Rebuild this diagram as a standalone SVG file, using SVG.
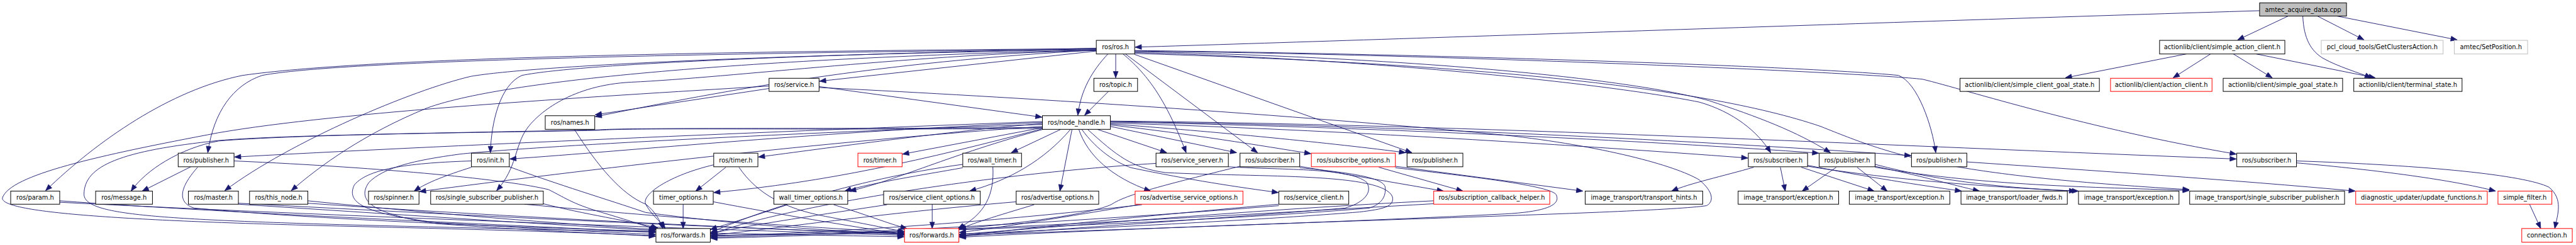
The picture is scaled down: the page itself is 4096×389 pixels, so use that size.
<svg xmlns="http://www.w3.org/2000/svg" width="4096" height="389" viewBox="0 0 4096 389">
<style>
.e{fill:none;stroke:#191970;stroke-width:1.2;marker-end:url(#a)}
.n rect{fill:#fff;stroke:#000;stroke-width:1.3}
.r rect{stroke:#ff0000}
.g rect{stroke:#bfbfbf}
.s rect{fill:#bfbfbf}
text{font-family:"DejaVu Sans","Liberation Sans",sans-serif;font-size:12.8px;text-anchor:middle;fill:#000}
</style>
<defs>
<marker id="a" markerWidth="14" markerHeight="11" refX="13" refY="5" orient="auto" markerUnits="userSpaceOnUse" overflow="visible"><path d="M0,0 L13,5 L0,10 z" fill="#191970" stroke="#191970" stroke-width="1"/></marker>
</defs>
<rect width="4096" height="389" fill="#fff"/>
<g transform="scale(0.772)">
<g id="edges">
<path class="e" d="M4654,22 C4000,42 2900,80 2338,97"/>
<path class="e" d="M4713,33 L4609,82"/>
<path class="e" d="M4773,33 L4869,82"/>
<path class="e" d="M4813,33 L5061,82"/>
<path class="e" d="M4743,33 C4745,80 4760,105 4785,120 C4815,137 4860,150 4884,160"/>
<path class="e" d="M4503,111 L4254,160"/>
<path class="e" d="M4553,111 L4476,160"/>
<path class="e" d="M4600,111 L4680,160"/>
<path class="e" d="M4647,111 L4892,160"/>
<path class="e" d="M2298,111 L2298,160"/>
<path class="e" d="M2282,111 C2250,145 2226,185 2220,237"/>
<path class="e" d="M2283,188 L2234,237"/>
<path class="e" d="M2258,105 L1688,167"/>
<path class="e" d="M2258,103 C1800,128 1500,185 1226,240"/>
<path class="e" d="M1584,182 L1226,236"/>
<path class="e" d="M1687,178 L2146,241"/>
<path class="e" d="M2258,99 C1700,112 1200,130 1075,155 C1030,175 1012,250 1010,314"/>
<path class="e" d="M2258,104 C1900,110 1500,160 1300,169 C1180,175 1110,230 1085,265 C1060,300 1065,345 1023,392"/>
<path class="e" d="M2258,100 C1400,106 750,120 500,155 C350,185 200,290 94,392"/>
<path class="e" d="M2258,101 C1400,110 700,125 540,155 C480,175 440,230 428,314"/>
<path class="e" d="M2258,102 C1600,112 1100,135 970,157 C850,185 600,290 463,392"/>
<path class="e" d="M2258,103 C1600,118 1050,160 880,222 C750,275 660,340 600,392"/>
<path class="e" d="M2313,111 C2360,150 2400,200 2443,314"/>
<path class="e" d="M2318,111 L2590,314"/>
<path class="e" d="M2337,112 L2908,314"/>
<path class="e" d="M2337,108 C2800,120 3300,170 3500,210 C3570,230 3620,270 3647,314"/>
<path class="e" d="M2337,106 C2900,118 3350,160 3520,207 C3620,240 3700,270 3770,314"/>
<path class="e" d="M2337,104 C2900,110 3700,135 3910,155 C3950,170 3980,260 3987,314"/>
<path class="e" d="M2337,105 C3000,112 3850,150 3960,163 C4050,185 4300,265 4606,317"/>
<path class="e" d="M2337,110 C3000,130 3500,175 3750,260 C3900,320 4000,360 4509,390"/>
<path class="e" d="M2147,250 C1600,270 900,300 483,323"/>
<path class="e" d="M2147,252 C1700,270 1300,310 1050,327"/>
<path class="e" d="M2147,254 C1950,270 1700,305 1562,323"/>
<path class="e" d="M2150,262 L1859,317"/>
<path class="e" d="M2185,266 L2083,314"/>
<path class="e" d="M2260,266 L2403,314"/>
<path class="e" d="M2287,260 L2547,314"/>
<path class="e" d="M2287,257 C2450,275 2600,300 2700,316"/>
<path class="e" d="M2287,255 C2500,270 2750,295 2895,314"/>
<path class="e" d="M2287,253 C2700,265 3200,295 3600,325"/>
<path class="e" d="M2287,251 C2800,260 3400,290 3746,315"/>
<path class="e" d="M2287,250 C2900,258 3500,290 3936,320"/>
<path class="e" d="M2287,249 C3000,255 3900,300 4606,327"/>
<path class="e" d="M2147,260 C1700,290 1200,350 864,394"/>
<path class="e" d="M971,344 C920,360 880,375 853,393"/>
<path class="e" d="M2147,262 C1700,266 1300,262 1233,267 C1000,272 600,277 450,290 C370,305 300,350 270,393"/>
<path class="e" d="M393,343 L293,393"/>
<path class="e" d="M2150,264 C1900,330 1700,375 1470,396"/>
<path class="e" d="M1495,344 L1433,393"/>
<path class="e" d="M2152,265 C1950,320 1850,370 1750,393"/>
<path class="e" d="M1983,345 C1900,360 1800,375 1740,393"/>
<path class="e" d="M2205,266 C2150,330 2080,370 1997,393"/>
<path class="e" d="M2208,266 L2183,393"/>
<path class="e" d="M2222,266 C2240,320 2290,365 2370,393"/>
<path class="e" d="M2228,266 C2260,310 2300,335 2330,345 C2450,370 2550,385 2633,396"/>
<path class="e" d="M2677,342 L2973,393"/>
<path class="e" d="M2840,344 L3013,393"/>
<path class="e" d="M2874,342 L3260,393"/>
<path class="e" d="M3612,344 C3550,362 3480,377 3443,393"/>
<path class="e" d="M3667,344 L3677,393"/>
<path class="e" d="M3782,344 L3712,393"/>
<path class="e" d="M3710,344 L3860,393"/>
<path class="e" d="M3825,344 L3887,393"/>
<path class="e" d="M3723,340 C3850,365 3950,380 4040,393"/>
<path class="e" d="M3862,342 C3950,360 4020,380 4077,393"/>
<path class="e" d="M3723,342 C3900,370 4100,385 4275,393"/>
<path class="e" d="M3862,338 C4000,375 4150,388 4281,393"/>
<path class="e" d="M3862,344 C4100,385 4350,385 4509,392"/>
<path class="e" d="M4051,333 C4300,350 4600,370 4851,393"/>
<path class="e" d="M4730,335 C4900,350 5050,370 5140,393"/>
<path class="e" d="M4730,331 C5000,340 5200,360 5250,385 C5280,410 5268,440 5262,470"/>
<path class="e" d="M5210,420 L5233,470"/>
<path class="e" d="M123,413 C500,440 1000,460 1350,478"/>
<path class="e" d="M123,416 C700,445 1400,470 1862,484"/>
<path class="e" d="M1584,177 C1200,200 700,230 450,273 C200,320 20,360 5,407 C0,440 300,455 700,465 C1000,472 1200,478 1350,485"/>
<path class="e" d="M2147,264 C1700,268 1300,262 1233,268 C1000,273 600,276 450,289 C250,310 173,340 173,400 C175,440 300,450 700,462 C1200,475 1600,482 1862,487"/>
<path class="e" d="M407,344 C375,380 360,415 400,428 C700,455 1100,468 1350,476"/>
<path class="e" d="M491,420 C800,440 1100,460 1350,474"/>
<path class="e" d="M491,418 C1000,445 1500,470 1862,480"/>
<path class="e" d="M634,413 C900,440 1150,460 1350,472"/>
<path class="e" d="M634,418 C1100,450 1600,472 1862,482"/>
<path class="e" d="M1119,419 C1200,440 1300,455 1355,469"/>
<path class="e" d="M1080,420 C1400,450 1700,470 1862,478"/>
<path class="e" d="M1049,343 C1150,380 1250,410 1330,437 C1500,460 1700,475 1862,481"/>
<path class="e" d="M1470,339 C1380,360 1320,400 1330,420 C1340,440 1360,455 1370,470"/>
<path class="e" d="M1407,420 L1407,470"/>
<path class="e" d="M1522,344 C1560,400 1620,430 1700,445 C1780,460 1830,470 1863,477"/>
<path class="e" d="M1469,415 C1600,440 1750,465 1862,482"/>
<path class="e" d="M1622,421 C1550,445 1500,460 1463,472"/>
<path class="e" d="M1717,421 C1780,440 1830,460 1868,470"/>
<path class="e" d="M2045,343 C2048,400 2030,440 1973,470"/>
<path class="e" d="M1983,338 C1750,370 1550,440 1464,478"/>
<path class="e" d="M1920,420 L1920,470"/>
<path class="e" d="M1827,421 C1700,440 1550,462 1464,480"/>
<path class="e" d="M2130,421 C2050,445 2000,460 1976,472"/>
<path class="e" d="M2093,415 C1800,440 1600,470 1464,484"/>
<path class="e" d="M2352,421 C2100,450 1800,475 1464,486"/>
<path class="e" d="M2345,421 C2200,445 2050,470 1976,478"/>
<path class="e" d="M2381,336 C2000,360 1600,430 1464,482"/>
<path class="e" d="M2554,342 C2400,380 2320,400 2290,420 C2250,440 2100,460 1976,470"/>
<path class="e" d="M2634,420 C2400,440 2100,470 1976,486"/>
<path class="e" d="M2634,423 C2300,450 1800,480 1464,488"/>
<path class="e" d="M2953,413 C2600,430 2200,465 1976,482"/>
<path class="e" d="M2953,419 C2500,445 1900,480 1464,490"/>
<path class="e" d="M2874,345 C3000,360 3190,380 3205,400 C3215,420 3190,435 3100,440 C2700,460 2200,475 1976,484"/>
<path class="e" d="M1687,180 C2000,195 2600,230 3100,278 C3300,300 3450,340 3500,370 C3530,395 3530,415 3515,423 C3400,440 2600,455 1976,488"/>
<path class="e" d="M2530,343 C2650,350 2780,345 2815,375 C2830,400 2800,420 2770,428 C2500,450 2200,470 1976,486"/>
<path class="e" d="M2677,345 C2780,355 2850,365 2853,385 C2855,405 2845,420 2820,428 C2500,455 1900,480 1464,484"/>
<path class="e" d="M2240,266 C2300,320 2330,345 2400,355 C2600,365 2850,355 2868,405 C2872,425 2850,430 2800,436 C2500,460 2000,480 1976,482"/>
<path class="e" d="M482,331 C800,345 1050,370 1130,390 C1170,410 1180,420 1250,440 C1300,455 1330,465 1352,472"/>
<path class="e" d="M971,331 C850,335 760,345 730,380 C710,420 760,440 900,458 C1100,470 1250,478 1350,482"/>
<path class="e" d="M2147,256 C1700,270 1100,300 947,317 C850,330 790,345 760,375 C735,410 760,440 900,460 C1100,475 1250,480 1350,486"/>
<path class="e" d="M1183,266 C1230,340 1280,400 1330,420 C1350,435 1360,455 1365,470"/>
</g>
<g id="n_amtec" class="n s"><rect x="4654" y="6" width="179" height="27"/><text x="4743.5" y="24.1">amtec_acquire_data.cpp</text></g>
<g id="n_ros" class="n"><rect x="2258" y="83" width="79" height="28"/><text x="2297.5" y="101.6">ros/ros.h</text></g>
<g id="n_sac" class="n"><rect x="4448" y="83" width="258" height="28"/><text x="4577" y="101.6">actionlib/client/simple_action_client.h</text></g>
<g id="n_gca" class="n g"><rect x="4781" y="83" width="251" height="28"/><text x="4906.5" y="101.6">pcl_cloud_tools/GetClustersAction.h</text></g>
<g id="n_setpos" class="n g"><rect x="5055" y="83" width="151" height="28"/><text x="5130.5" y="101.6">amtec/SetPosition.h</text></g>
<g id="n_service" class="n"><rect x="1584" y="161" width="103" height="27"/><text x="1635.5" y="179.1">ros/service.h</text></g>
<g id="n_topic" class="n"><rect x="2253" y="161" width="90" height="27"/><text x="2298" y="179.1">ros/topic.h</text></g>
<g id="n_scgs" class="n"><rect x="4037" y="161" width="287" height="27"/><text x="4180.5" y="179.1">actionlib/client/simple_client_goal_state.h</text></g>
<g id="n_ac" class="n r"><rect x="4347" y="161" width="209" height="27"/><text x="4451.5" y="179.1">actionlib/client/action_client.h</text></g>
<g id="n_sgs" class="n"><rect x="4579" y="161" width="246" height="27"/><text x="4702" y="179.1">actionlib/client/simple_goal_state.h</text></g>
<g id="n_term" class="n"><rect x="4848" y="161" width="223" height="27"/><text x="4959.5" y="179.1">actionlib/client/terminal_state.h</text></g>
<g id="n_names" class="n"><rect x="1123" y="238" width="102" height="28"/><text x="1174" y="256.6">ros/names.h</text></g>
<g id="n_nh" class="n"><rect x="2147" y="238" width="140" height="28"/><text x="2217" y="256.6">ros/node_handle.h</text></g>
<g id="n_pub1" class="n"><rect x="367" y="315" width="115" height="28"/><text x="424.5" y="333.6">ros/publisher.h</text></g>
<g id="n_init" class="n"><rect x="971" y="315" width="78" height="28"/><text x="1010" y="333.6">ros/init.h</text></g>
<g id="n_timer1" class="n"><rect x="1470" y="315" width="91" height="28"/><text x="1515.5" y="333.6">ros/timer.h</text></g>
<g id="n_timer2" class="n r"><rect x="1767" y="315" width="91" height="28"/><text x="1812.5" y="333.6">ros/timer.h</text></g>
<g id="n_wtimer" class="n"><rect x="1983" y="315" width="121" height="28"/><text x="2043.5" y="333.6">ros/wall_timer.h</text></g>
<g id="n_ssrv" class="n"><rect x="2381" y="315" width="149" height="28"/><text x="2455.5" y="333.6">ros/service_server.h</text></g>
<g id="n_sub1" class="n"><rect x="2554" y="315" width="123" height="28"/><text x="2615.5" y="333.6">ros/subscriber.h</text></g>
<g id="n_subopt" class="n r"><rect x="2701" y="315" width="173" height="28"/><text x="2787.5" y="333.6">ros/subscribe_options.h</text></g>
<g id="n_pub2" class="n"><rect x="2898" y="315" width="115" height="28"/><text x="2955.5" y="333.6">ros/publisher.h</text></g>
<g id="n_sub2" class="n"><rect x="3601" y="315" width="122" height="28"/><text x="3662" y="333.6">ros/subscriber.h</text></g>
<g id="n_pub3" class="n"><rect x="3747" y="315" width="115" height="28"/><text x="3804.5" y="333.6">ros/publisher.h</text></g>
<g id="n_pub4" class="n"><rect x="3937" y="315" width="114" height="28"/><text x="3994" y="333.6">ros/publisher.h</text></g>
<g id="n_sub3" class="n"><rect x="4607" y="315" width="123" height="28"/><text x="4668.5" y="333.6">ros/subscriber.h</text></g>
<g id="n_param" class="n"><rect x="22" y="393" width="101" height="27"/><text x="72.5" y="411.1">ros/param.h</text></g>
<g id="n_msg" class="n"><rect x="197" y="393" width="117" height="27"/><text x="255.5" y="411.1">ros/message.h</text></g>
<g id="n_master" class="n"><rect x="388" y="393" width="103" height="27"/><text x="439.5" y="411.1">ros/master.h</text></g>
<g id="n_thisnode" class="n"><rect x="514" y="393" width="120" height="27"/><text x="574" y="411.1">ros/this_node.h</text></g>
<g id="n_spinner" class="n"><rect x="759" y="393" width="104" height="27"/><text x="811" y="411.1">ros/spinner.h</text></g>
<g id="n_ssp" class="n"><rect x="887" y="393" width="232" height="27"/><text x="1003" y="411.1">ros/single_subscriber_publisher.h</text></g>
<g id="n_topt" class="n"><rect x="1346" y="393" width="123" height="27"/><text x="1407.5" y="411.1">timer_options.h</text></g>
<g id="n_wtopt" class="n"><rect x="1594" y="393" width="152" height="27"/><text x="1670" y="411.1">wall_timer_options.h</text></g>
<g id="n_sco" class="n"><rect x="1820" y="393" width="199" height="27"/><text x="1919.5" y="411.1">ros/service_client_options.h</text></g>
<g id="n_ao" class="n"><rect x="2093" y="393" width="170" height="27"/><text x="2178" y="411.1">ros/advertise_options.h</text></g>
<g id="n_aso" class="n r"><rect x="2338" y="393" width="222" height="27"/><text x="2449" y="411.1">ros/advertise_service_options.h</text></g>
<g id="n_sc" class="n"><rect x="2634" y="393" width="144" height="27"/><text x="2706" y="411.1">ros/service_client.h</text></g>
<g id="n_sch" class="n r"><rect x="2953" y="393" width="239" height="27"/><text x="3072.5" y="411.1">ros/subscription_callback_helper.h</text></g>
<g id="n_th" class="n"><rect x="3265" y="393" width="242" height="27"/><text x="3386" y="411.1">image_transport/transport_hints.h</text></g>
<g id="n_ex1" class="n"><rect x="3580" y="393" width="207" height="27"/><text x="3683.5" y="411.1">image_transport/exception.h</text></g>
<g id="n_ex2" class="n"><rect x="3809" y="393" width="207" height="27"/><text x="3912.5" y="411.1">image_transport/exception.h</text></g>
<g id="n_lf" class="n"><rect x="4039" y="393" width="219" height="27"/><text x="4148.5" y="411.1">image_transport/loader_fwds.h</text></g>
<g id="n_ex3" class="n"><rect x="4281" y="393" width="207" height="27"/><text x="4384.5" y="411.1">image_transport/exception.h</text></g>
<g id="n_itssp" class="n"><rect x="4510" y="393" width="319" height="27"/><text x="4669.5" y="411.1">image_transport/single_subscriber_publisher.h</text></g>
<g id="n_du" class="n r"><rect x="4852" y="393" width="271" height="27"/><text x="4987.5" y="411.1">diagnostic_updater/update_functions.h</text></g>
<g id="n_sf" class="n r"><rect x="5145" y="393" width="111" height="27"/><text x="5200.5" y="411.1">simple_filter.h</text></g>
<g id="n_fw1" class="n"><rect x="1351" y="470" width="112" height="28"/><text x="1407" y="488.6">ros/forwards.h</text></g>
<g id="n_fw2" class="n r"><rect x="1863" y="470" width="112" height="28"/><text x="1919" y="488.6">ros/forwards.h</text></g>
<g id="n_conn" class="n r"><rect x="5194" y="470" width="104" height="28"/><text x="5246" y="488.6">connection.h</text></g>
</g>
</svg>
